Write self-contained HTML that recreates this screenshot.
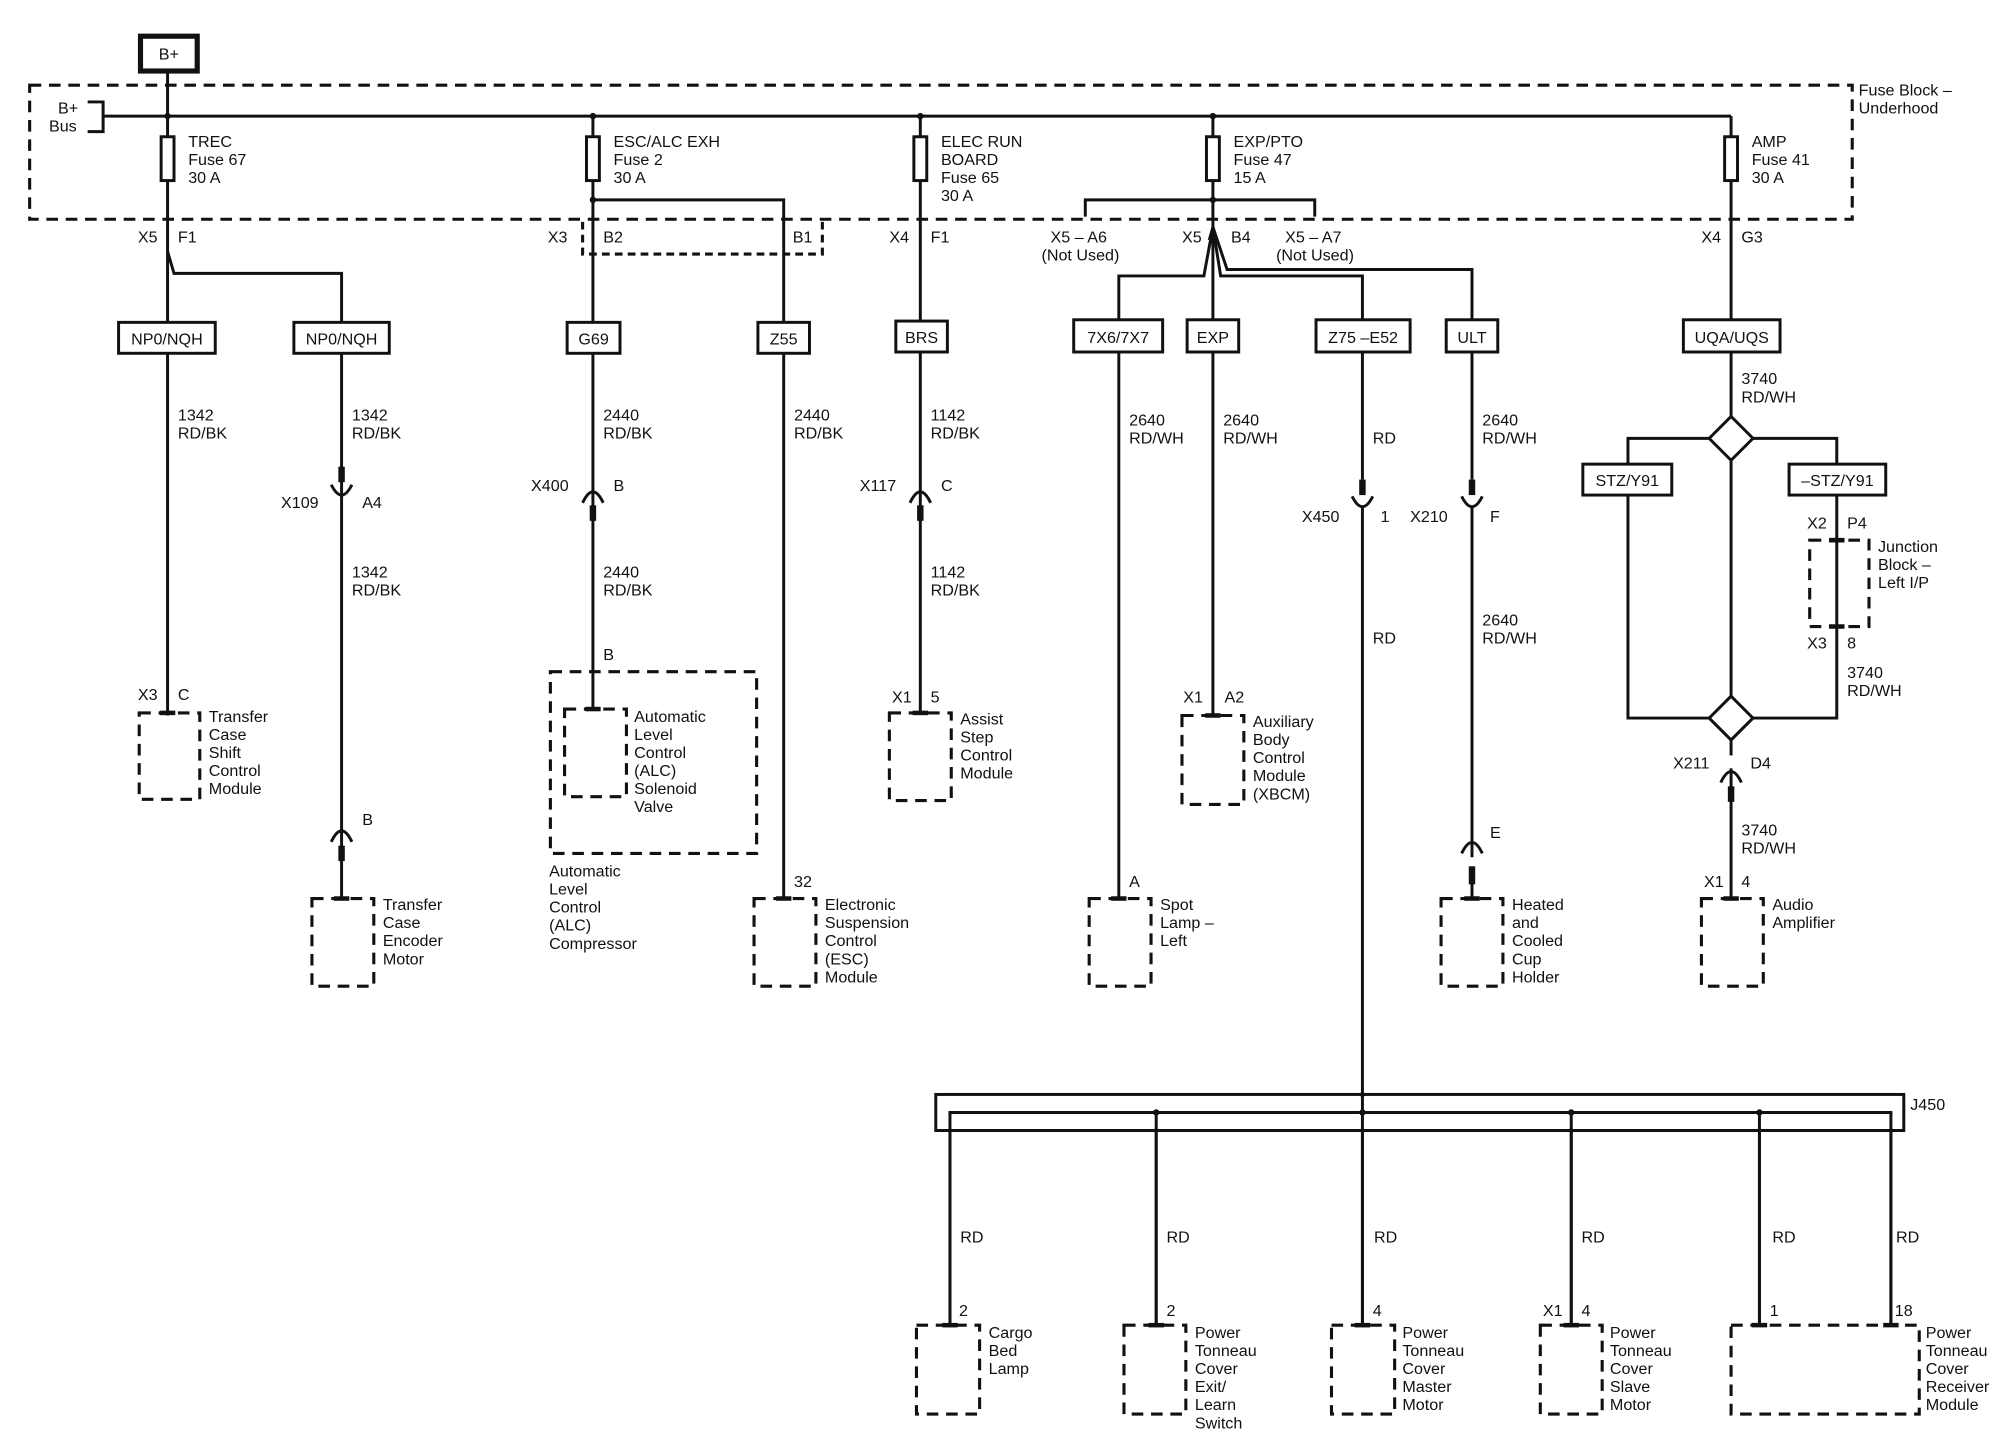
<!DOCTYPE html>
<html><head><meta charset="utf-8"><style>
html,body{margin:0;padding:0;background:#fff;}
svg{display:block;}
text{font-family:"Liberation Sans",sans-serif;font-size:12.5px;fill:#111;}
.w{stroke:#111;stroke-width:2.3;fill:none;}
.d{stroke:#111;stroke-width:2.4;fill:none;stroke-dasharray:9 6;}
.b{stroke:#111;stroke-width:2.3;fill:#fff;}
.t{stroke:#111;stroke-width:3.5;}
</style></head><body>
<svg width="2014" height="1440" viewBox="0 0 1562.5 1117" xmlns="http://www.w3.org/2000/svg">
<!-- B+ -->
<rect x="109" y="28" width="44" height="27" fill="#fff" stroke="#111" stroke-width="4"/>
<text x="131" y="46" text-anchor="middle">B+</text>
<!-- fuse block -->
<rect x="23" y="66" width="1414" height="104" class="d"/>
<text x="1442" y="74">Fuse Block –</text><text x="1442" y="88">Underhood</text>
<text x="45" y="88">B+</text><text x="38" y="102">Bus</text>
<path class="w" d="M68 79H80V102H68"/>
<path class="w" d="M80 90H1343"/>
<path class="w" d="M130 55V90"/>
<g fill="#111"><circle cx="130" cy="90" r="2.5"/><circle cx="460" cy="90" r="2.5"/><circle cx="714" cy="90" r="2.5"/><circle cx="941" cy="90" r="2.5"/><circle cx="460" cy="155" r="2.5"/><circle cx="941" cy="155" r="2.5"/></g>
<!-- fuses -->
<g>
<path class="w" d="M130 90V555"/><rect x="125" y="106" width="10" height="34" class="b"/>
<text x="146" y="114">TREC</text><text x="146" y="128">Fuse 67</text><text x="146" y="142">30 A</text>
<path class="w" d="M460 90V550"/><rect x="455" y="106" width="10" height="34" class="b"/>
<text x="476" y="114">ESC/ALC EXH</text><text x="476" y="128">Fuse 2</text><text x="476" y="142">30 A</text>
<path class="w" d="M714 90V553"/><rect x="709" y="106" width="10" height="34" class="b"/>
<text x="730" y="114">ELEC RUN</text><text x="730" y="128">BOARD</text><text x="730" y="142">Fuse 65</text><text x="730" y="156">30 A</text>
<path class="w" d="M941 90V555"/><rect x="936" y="106" width="10" height="34" class="b"/>
<text x="957" y="114">EXP/PTO</text><text x="957" y="128">Fuse 47</text><text x="957" y="142">15 A</text>
<path class="w" d="M1343 90V697"/><rect x="1338" y="106" width="10" height="34" class="b"/>
<text x="1359" y="114">AMP</text><text x="1359" y="128">Fuse 41</text><text x="1359" y="142">30 A</text>
</g>
<!-- col1 -->
<text x="107" y="188">X5</text><text x="138" y="188">F1</text>
<path class="w" d="M130 195L135 212H265V697"/>
<rect x="92" y="250" width="75" height="24" class="b"/><text x="129.5" y="267" text-anchor="middle">NP0/NQH</text>
<rect x="228" y="250" width="74" height="24" class="b"/><text x="265" y="267" text-anchor="middle">NP0/NQH</text>
<text x="138" y="326">1342</text><text x="138" y="340">RD/BK</text>
<text x="273" y="326">1342</text><text x="273" y="340">RD/BK</text>
<text x="107" y="543">X3</text><text x="138" y="543">C</text>
<rect x="108" y="553" width="47" height="67" class="d"/><path class="t" d="M124 553H136"/>
<text x="162" y="560">Transfer</text><text x="162" y="574">Case</text><text x="162" y="588">Shift</text><text x="162" y="602">Control</text><text x="162" y="616">Module</text>
<!-- X109 -->
<rect x="262.5" y="362" width="5" height="12" fill="#111"/>
<path class="w" d="M257 376Q265 392 273 376"/>
<text x="218" y="394">X109</text><text x="281" y="394">A4</text>
<text x="273" y="448">1342</text><text x="273" y="462">RD/BK</text>
<path class="w" d="M257 653Q265 636 273 653"/><rect x="262.5" y="656" width="5" height="12" fill="#111"/>
<text x="281" y="640">B</text>
<rect x="242" y="697" width="48" height="68" class="d"/><path class="t" d="M259 697H271"/>
<text x="297" y="706">Transfer</text><text x="297" y="720">Case</text><text x="297" y="734">Encoder</text><text x="297" y="748">Motor</text>
<!-- col2 -->
<path class="w" d="M460 155H608V697"/>
<path class="d" d="M452 172V197H638V172" style="stroke-dasharray:6 4"/>
<text x="425" y="188">X3</text><text x="468" y="188">B2</text><text x="615" y="188">B1</text>
<rect x="440" y="250" width="41" height="24" class="b"/><text x="460.5" y="267" text-anchor="middle">G69</text>
<rect x="588" y="250" width="40" height="24" class="b"/><text x="608" y="267" text-anchor="middle">Z55</text>
<text x="468" y="326">2440</text><text x="468" y="340">RD/BK</text>
<text x="616" y="326">2440</text><text x="616" y="340">RD/BK</text>
<path class="w" d="M452 390Q460 373 468 390"/><rect x="457.5" y="392" width="5" height="12" fill="#111"/>
<text x="412" y="381">X400</text><text x="476" y="381">B</text>
<text x="468" y="448">2440</text><text x="468" y="462">RD/BK</text>
<text x="468" y="512">B</text>
<rect x="427" y="521" width="160" height="141" class="d"/>
<rect x="438" y="550" width="48" height="68" class="d"/><path class="t" d="M454 550H466"/>
<text x="492" y="560">Automatic</text><text x="492" y="574">Level</text><text x="492" y="588">Control</text><text x="492" y="602">(ALC)</text><text x="492" y="616">Solenoid</text><text x="492" y="630">Valve</text>
<text x="426" y="680">Automatic</text><text x="426" y="694">Level</text><text x="426" y="708">Control</text><text x="426" y="722">(ALC)</text><text x="426" y="736">Compressor</text>
<text x="616" y="688">32</text>
<rect x="585" y="697" width="48" height="68" class="d"/><path class="t" d="M602 697H614"/>
<text x="640" y="706">Electronic</text><text x="640" y="720">Suspension</text><text x="640" y="734">Control</text><text x="640" y="748">(ESC)</text><text x="640" y="762">Module</text>
<!-- col3 -->
<text x="690" y="188">X4</text><text x="722" y="188">F1</text>
<rect x="695" y="249" width="40" height="24" class="b"/><text x="715" y="266" text-anchor="middle">BRS</text>
<text x="722" y="326">1142</text><text x="722" y="340">RD/BK</text>
<path class="w" d="M706 390Q714 373 722 390"/><rect x="711.5" y="392" width="5" height="12" fill="#111"/>
<text x="667" y="381">X117</text><text x="730" y="381">C</text>
<text x="722" y="448">1142</text><text x="722" y="462">RD/BK</text>
<text x="692" y="545">X1</text><text x="722" y="545">5</text>
<rect x="690" y="553" width="48" height="68" class="d"/><path class="t" d="M708 553H720"/>
<text x="745" y="562">Assist</text><text x="745" y="576">Step</text><text x="745" y="590">Control</text><text x="745" y="604">Module</text>
<!-- col4 -->
<path class="w" d="M842 168V155H1020V168"/>
<text x="815" y="188">X5 – A6</text><text x="808" y="202">(Not Used)</text>
<text x="917" y="188">X5</text><text x="955" y="188">B4</text>
<text x="997" y="188">X5 – A7</text><text x="990" y="202">(Not Used)</text>
<path class="w" d="M941 176L934 214H868V697"/>
<path class="w" d="M941 176L947 214H1057V372"/>
<path class="w" d="M941 176L952 209H1142V372"/>
<path d="M937 186L941 172L945 186Z" fill="#111"/>
<rect x="833" y="248" width="69" height="25" class="b"/><text x="867.5" y="266" text-anchor="middle">7X6/7X7</text>
<rect x="921" y="248" width="40" height="25" class="b"/><text x="941" y="266" text-anchor="middle">EXP</text>
<rect x="1021" y="248" width="73" height="25" class="b"/><text x="1057.5" y="266" text-anchor="middle">Z75 –E52</text>
<rect x="1122" y="248" width="40" height="25" class="b"/><text x="1142" y="266" text-anchor="middle">ULT</text>
<text x="876" y="330">2640</text><text x="876" y="344">RD/WH</text>
<text x="949" y="330">2640</text><text x="949" y="344">RD/WH</text>
<text x="1065" y="344">RD</text>
<text x="1150" y="330">2640</text><text x="1150" y="344">RD/WH</text>
<text x="876" y="688">A</text>
<rect x="845" y="697" width="48" height="68" class="d"/><path class="t" d="M862 697H874"/>
<text x="900" y="706">Spot</text><text x="900" y="720">Lamp –</text><text x="900" y="734">Left</text>
<text x="918" y="545">X1</text><text x="950" y="545">A2</text>
<rect x="917" y="555" width="48" height="69" class="d"/><path class="t" d="M935 555H947"/>
<text x="972" y="564">Auxiliary</text><text x="972" y="578">Body</text><text x="972" y="592">Control</text><text x="972" y="606">Module</text><text x="972" y="620">(XBCM)</text>
<!-- X450 -->
<rect x="1054.5" y="372" width="5" height="12" fill="#111"/>
<path class="w" d="M1049 385Q1057 401 1065 385"/>
<path class="w" d="M1057 392V1028"/>
<text x="1010" y="405">X450</text><text x="1071" y="405">1</text>
<text x="1065" y="499">RD</text>
<!-- X210 -->
<rect x="1139.5" y="372" width="5" height="12" fill="#111"/>
<path class="w" d="M1134 385Q1142 401 1150 385"/>
<path class="w" d="M1142 392V697"/>
<text x="1094" y="405">X210</text><text x="1156" y="405">F</text>
<text x="1150" y="485">2640</text><text x="1150" y="499">RD/WH</text>
<path class="w" d="M1134 662Q1142 645 1150 662"/><rect x="1139.5" y="665" width="5" height="12" fill="#fff"/><rect x="1139.5" y="672" width="5" height="14" fill="#111"/>
<text x="1156" y="650">E</text>
<rect x="1118" y="697" width="48" height="68" class="d"/><path class="t" d="M1136 697H1148"/>
<text x="1173" y="706">Heated</text><text x="1173" y="720">and</text><text x="1173" y="734">Cooled</text><text x="1173" y="748">Cup</text><text x="1173" y="762">Holder</text>
<!-- col5 -->
<text x="1320" y="188">X4</text><text x="1351" y="188">G3</text>
<rect x="1306" y="248" width="75" height="25" class="b"/><text x="1343.5" y="266" text-anchor="middle">UQA/UQS</text>
<text x="1351" y="298">3740</text><text x="1351" y="312">RD/WH</text>
<path class="w" d="M1263 360V557H1425V340H1263V360"/>
<path class="b" d="M1343 323L1360 340L1343 357L1326 340Z"/>
<rect x="1228" y="360" width="69" height="24" class="b"/><text x="1262.5" y="377" text-anchor="middle">STZ/Y91</text>
<rect x="1388" y="360" width="75" height="24" class="b"/><text x="1425.5" y="377" text-anchor="middle">–STZ/Y91</text>
<text x="1402" y="410">X2</text><text x="1433" y="410">P4</text>
<rect x="1404" y="419" width="46" height="67" class="d"/><path class="t" d="M1419 419H1431M1419 486H1431"/>
<text x="1457" y="428">Junction</text><text x="1457" y="442">Block –</text><text x="1457" y="456">Left I/P</text>
<text x="1402" y="503">X3</text><text x="1433" y="503">8</text>
<text x="1433" y="526">3740</text><text x="1433" y="540">RD/WH</text>
<path class="b" d="M1343 540L1360 557L1343 574L1326 557Z"/>
<path class="w" d="M1335 607Q1343 590 1351 607"/><rect x="1340.5" y="610" width="5" height="12" fill="#111"/>
<rect x="1339" y="586" width="8" height="10" fill="#fff"/>
<text x="1298" y="596">X211</text><text x="1358" y="596">D4</text>
<text x="1351" y="648">3740</text><text x="1351" y="662">RD/WH</text>
<text x="1322" y="688">X1</text><text x="1351" y="688">4</text>
<rect x="1320" y="697" width="48" height="68" class="d"/><path class="t" d="M1337 697H1349"/>
<text x="1375" y="706">Audio</text><text x="1375" y="720">Amplifier</text>
<!-- J450 -->
<rect x="726" y="849" width="751" height="28" class="w"/>
<path class="w" d="M737 1028V863H1467V1028"/>
<path class="w" d="M897 863V1028M1219 863V1028M1365 863V1028"/>
<g fill="#111"><circle cx="897" cy="863" r="2.5"/><circle cx="1057" cy="863" r="2.5"/><circle cx="1219" cy="863" r="2.5"/><circle cx="1365" cy="863" r="2.5"/><circle cx="1057" cy="849" r="2"/></g>
<rect x="733" y="865" width="740" height="10" fill="#fff"/>
<path class="w" d="M737 863V1028M897 863V1028M1057 863V1028M1219 863V1028M1365 863V1028M1467 863V1028"/>
<path class="w" d="M726 877H1477"/>
<text x="1482" y="861">J450</text>
<text x="745" y="964">RD</text><text x="905" y="964">RD</text><text x="1066" y="964">RD</text><text x="1227" y="964">RD</text><text x="1375" y="964">RD</text><text x="1471" y="964">RD</text>
<text x="744" y="1021">2</text><text x="905" y="1021">2</text><text x="1065" y="1021">4</text><text x="1197" y="1021">X1</text><text x="1227" y="1021">4</text><text x="1373" y="1021">1</text><text x="1470" y="1021">18</text>
<rect x="711" y="1028" width="49" height="69" class="d"/><path class="t" d="M731 1028H743"/>
<text x="767" y="1038">Cargo</text><text x="767" y="1052">Bed</text><text x="767" y="1066">Lamp</text>
<rect x="872" y="1028" width="48" height="69" class="d"/><path class="t" d="M891 1028H903"/>
<text x="927" y="1038">Power</text><text x="927" y="1052">Tonneau</text><text x="927" y="1066">Cover</text><text x="927" y="1080">Exit/</text><text x="927" y="1094">Learn</text><text x="927" y="1108">Switch</text>
<rect x="1033" y="1028" width="49" height="69" class="d"/><path class="t" d="M1051 1028H1063"/>
<text x="1088" y="1038">Power</text><text x="1088" y="1052">Tonneau</text><text x="1088" y="1066">Cover</text><text x="1088" y="1080">Master</text><text x="1088" y="1094">Motor</text>
<rect x="1195" y="1028" width="48" height="69" class="d"/><path class="t" d="M1213 1028H1225"/>
<text x="1249" y="1038">Power</text><text x="1249" y="1052">Tonneau</text><text x="1249" y="1066">Cover</text><text x="1249" y="1080">Slave</text><text x="1249" y="1094">Motor</text>
<rect x="1343" y="1028" width="146" height="69" class="d"/><path class="t" d="M1359 1028H1371M1461 1028H1473"/>
<text x="1494" y="1038">Power</text><text x="1494" y="1052">Tonneau</text><text x="1494" y="1066">Cover</text><text x="1494" y="1080">Receiver</text><text x="1494" y="1094">Module</text>
</svg>
</body></html>
